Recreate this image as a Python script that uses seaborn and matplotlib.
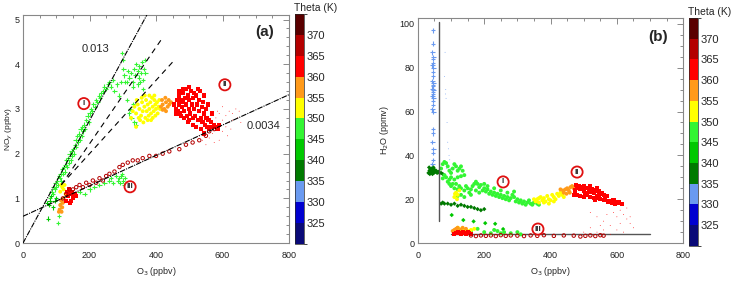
import numpy as np
import pandas as pd
import matplotlib
matplotlib.use('Agg')
import matplotlib.pyplot as plt
import matplotlib.colors as mcolors
import matplotlib.ticker as mticker
import seaborn as sns

# theta bins (K) and their colours
theta_bounds = [320, 325, 330, 335, 340, 345, 350, 355, 360, 365, 370, 375]
theta_colors = ['#0a0a78', '#0000d0', '#6a9af0', '#007a00', '#00c800', '#33f533',
                '#ffff00', '#ff9a1a', '#ff0000', '#b40000', '#5a0000']
theta_ticks = [325, 330, 335, 340, 345, 350, 355, 360, 365, 370]

# ---------------- panel (a): NOy vs O3 ----------------
a_350_x = [82, 86, 90, 92, 95, 98, 100, 103, 106, 108, 110, 113, 115, 118, 120, 123, 125, 128, 130, 133,
           136, 138, 140, 143, 146, 148, 150, 153, 156, 158, 160, 163, 166, 168, 170, 173, 176, 178, 180, 184,
           187, 190, 194, 197, 200, 204, 208, 212, 216, 220, 224, 228, 232, 236, 240, 245, 250, 255, 260, 265,
           270, 275, 282, 288, 294, 298, 300, 302, 305, 308,
           320, 325, 330, 335, 338, 340, 345, 348, 350, 355, 358, 360, 363, 366, 368, 330, 345, 352, 360, 312, 316,
           318, 322, 326, 330, 312, 335, 340,
           260, 265, 270, 280, 285, 290, 293, 296, 300, 303, 306, 298,
           150, 170, 185, 200, 215, 230, 245, 105, 108, 112, 115]
a_350_y = [1.0, 1.15, 1.1, 1.25, 1.2, 1.35, 1.25, 1.4, 1.3, 1.5, 1.45, 1.55, 1.4, 1.65, 1.55, 1.7, 1.6, 1.75, 1.85, 1.7,
           1.9, 1.8, 2.0, 1.85, 2.05, 1.95, 2.1, 2.0, 2.2, 2.3, 2.15, 2.4, 2.25, 2.45, 2.3, 2.55, 2.4, 2.6, 2.5, 2.65,
           2.55, 2.75, 2.85, 2.7, 2.9, 3.0, 2.95, 3.1, 3.05, 3.2, 3.15, 3.3, 3.25, 3.35, 3.4, 3.5, 3.45, 3.55, 3.6, 3.5,
           3.65, 3.4, 3.55, 3.3, 3.6, 4.25, 4.1, 3.9, 3.75, 3.6,
           3.7, 3.8, 3.6, 3.9, 3.75, 4.0, 3.85, 3.7, 3.95, 3.8, 4.05, 3.65, 3.9, 4.1, 3.8, 3.5, 3.55, 3.6, 3.45, 3.6, 3.85,
           2.9, 3.0, 2.8, 3.1, 3.2, 2.7, 2.65,
           1.4, 1.45, 1.35, 1.5, 1.4, 1.45, 1.35, 1.5, 1.4, 1.3, 1.45, 1.55,
           1.1, 1.15, 1.1, 1.2, 1.25, 1.3, 1.35, 0.45, 0.6, 0.75, 0.9]
a_345_x = [72, 75, 78, 80, 85, 90, 95, 100]
a_345_y = [0.9, 0.55, 0.85, 0.95, 1.05, 0.8, 0.95, 1.0]
a_355_x = [330, 335, 340, 345, 350, 355, 358, 360, 365, 368, 370, 372, 375, 378, 380, 383, 385, 388, 390, 393,
           395, 398, 400, 403, 405, 408, 362, 375, 352, 385, 342, 366, 395, 410, 412, 348, 357, 380, 390, 398,
           340, 325, 112, 118, 122, 125, 115, 128]
a_355_y = [2.95, 3.05, 2.9, 3.1, 3.0, 2.85, 3.15, 2.95, 3.05, 2.8, 3.2, 2.95, 3.1, 2.85, 3.0, 3.15, 2.9, 3.25, 3.05, 2.95,
           3.2, 3.1, 3.0, 3.15, 2.9, 3.05, 2.7, 2.75, 2.75, 2.75, 3.2, 3.3, 3.3, 3.2, 3.0, 2.8, 3.25, 3.3, 2.8, 2.85,
           2.6, 2.8, 1.15, 1.25, 1.2, 1.3, 1.3, 1.1]
a_360_x = [415, 420, 425, 430, 435, 440, 420, 430, 438, 445, 418, 428, 110, 112, 115, 118, 120, 108, 116, 122]
a_360_y = [3.05, 3.1, 3.0, 3.15, 3.05, 3.1, 2.98, 2.95, 3.2, 3.15, 3.2, 3.25, 0.75, 0.85, 0.95, 0.8, 0.9, 0.7, 0.7, 1.0]
a_365_x = [455, 460, 462, 465, 468, 470, 472, 475, 478, 480, 482, 485, 488, 490, 492, 495, 498, 500, 502, 505,
           508, 510, 512, 515, 518, 520, 522, 525, 528, 530, 532, 535, 538, 540, 542, 545, 548, 550, 552, 555,
           558, 560, 565, 570, 575, 580, 585, 590, 480, 470, 500, 490, 525, 515, 545, 556, 568, 460, 475, 495,
           510, 520, 535, 545, 500, 485, 130, 135, 140, 145, 150, 138, 148, 155, 142, 133, 160]
a_365_y = [3.1, 3.0, 3.2, 2.95, 3.3, 3.1, 2.9, 3.2, 3.05, 3.35, 3.15, 2.95, 3.25, 3.1, 2.85, 3.3, 3.0, 3.2, 2.9, 3.4,
           3.1, 2.8, 3.25, 3.0, 2.85, 3.3, 3.1, 2.75, 3.2, 2.95, 3.4, 2.8, 3.05, 2.7, 3.15, 2.9, 2.65, 3.0, 2.8, 2.6,
           2.75, 2.55, 2.7, 2.6, 2.65, 2.6, 2.55, 2.65, 3.45, 3.4, 3.5, 3.45, 3.45, 3.35, 3.3, 3.1, 2.9, 2.9, 2.85, 2.7,
           2.65, 2.6, 2.55, 2.45, 2.75, 2.8, 0.95, 1.05, 1.1, 0.95, 1.0, 1.2, 1.15, 1.1, 0.9, 1.15, 1.05]
a_365s_x = [540, 550, 560, 570, 580, 590, 600, 610, 620, 630, 640, 650, 600, 610, 620, 630, 615, 590, 575, 560,
            600, 585, 625, 645, 655, 540, 530, 555]
a_365s_y = [2.3, 2.2, 2.35, 2.45, 2.8, 2.9, 2.75, 2.85, 2.95, 2.9, 3.0, 2.95, 2.5, 2.6, 2.7, 2.75, 2.4, 2.3, 2.25, 2.55,
            3.05, 2.95, 2.55, 2.8, 2.7, 2.5, 2.4, 2.4]
a_370_x = [120, 130, 140, 150, 160, 170, 180, 190, 200, 210, 220, 230, 240, 250, 260, 275, 290, 300, 315, 330,
           345, 360, 380, 400, 420, 440, 470, 490, 510, 530, 550, 560, 575]
a_370_y = [1.0, 1.1, 1.2, 1.2, 1.25, 1.3, 1.25, 1.35, 1.3, 1.4, 1.35, 1.45, 1.4, 1.5, 1.55, 1.6, 1.7, 1.75, 1.8, 1.85,
           1.85, 1.9, 1.95, 1.95, 2.0, 2.05, 2.1, 2.2, 2.25, 2.3, 2.4, 2.5, 2.55]

# fitted lines in (a)
fit_slope_a = 0.0137          # "0.013" line through origin
fit2_slope, fit2_icpt = 0.0034, 0.6
dash_start = [115, 115]
dash_end = [421, 451]
dash_slope = [0.0108, 0.0082]
dash_icpt = [0.06, 0.36]

# ---------------- panel (b): H2O vs O3 ----------------
b_335_x = [45, 46, 44, 47, 45, 46, 44, 47, 45, 46, 44, 47, 45, 46, 44, 47, 45, 46, 44, 47,
           45, 46, 44, 47, 45, 46, 44, 47, 45, 46, 44]
b_335_y = [97, 91, 87, 85, 84, 82, 81, 80, 78, 76, 74, 73, 72, 71.5, 70.5, 70, 69, 68, 67, 66,
           65, 63, 61, 60, 52, 50, 46, 43, 41, 38, 36]
b_335s_x = [82, 80, 84, 83, 85, 88, 90, 92, 94, 96, 90, 86, 98]
b_335s_y = [87, 76, 70, 68, 66, 55, 46, 43, 40, 38, 36, 34, 34]
b_340_x = [32, 35, 38, 40, 42, 45, 48, 50, 52, 55, 58, 62, 65, 36, 44, 34, 47, 70, 75,
           70, 75, 80, 90, 100, 110, 120, 130, 140, 150, 160, 170, 180, 190, 200]
b_340_y = [32, 33, 33.5, 32.5, 34, 33, 32, 33.5, 32.5, 33, 32, 32.5, 32, 31.5, 31.5, 34.5, 34.5, 32, 31.5,
           18, 18.5, 18, 18, 17.5, 18, 17, 17.5, 17, 16.5, 16.5, 16, 15.5, 15, 15.5]
b_345_x = [102, 137, 168, 203, 233, 257]
b_345_y = [12.8, 10.5, 9.9, 9.1, 8.8, 6.4]
b_350_x = [70, 75, 80, 85, 90, 95, 100, 105, 110, 115, 120, 125, 130, 135, 140, 100, 110, 120, 130, 95,
           85, 80, 75, 105, 90,
           95, 100, 110, 115, 120, 125, 130, 140, 145, 150, 155, 160, 165, 170, 175, 180, 185, 190, 195, 200,
           205, 210, 215, 220, 225, 230, 235, 240, 245, 250, 255, 260, 265, 270, 275, 280, 285, 290, 295, 300,
           305, 310, 315, 320, 325, 330, 335, 340, 345, 350, 355, 360, 365, 200, 210, 230, 250, 270, 290, 175,
           185, 160, 140, 130, 120,
           200, 220, 240, 260, 280, 300, 310, 230, 180, 160, 250]
b_350_y = [34, 36, 37, 36.5, 35, 33, 32, 34, 36, 35, 33, 34, 35, 33, 31, 30, 29, 30, 30.5, 29,
           30, 31, 29.5, 27, 28,
           27, 26, 25, 27, 24.5, 26, 25, 24, 26, 25, 23, 24.5, 26, 27, 28, 27, 25.5, 26.5, 24, 25,
           23.5, 24.5, 22.5, 23.5, 22, 23, 21.5, 22.5, 21, 22, 20.5, 21.5, 20, 21, 19.5, 20.5, 22, 21, 19, 20,
           18.5, 19.5, 18, 19, 17.5, 18.5, 19.5, 18, 17.5, 18.5, 19, 18, 17.5, 27, 26, 25, 24, 23, 23.5, 24,
           23, 22, 21, 22, 21.5,
           5, 4.5, 5.5, 5, 4.5, 5, 4, 6, 6.5, 5.5, 4.5]
b_355_x = [355, 360, 365, 370, 375, 380, 385, 390, 395, 400, 405, 410, 415, 420, 425, 430, 435, 440, 395, 380,
           410, 365, 350, 110, 115, 120, 125, 118, 112, 115, 120, 125, 130, 135, 140, 150, 160, 170]
b_355_y = [19, 20, 18.5, 21, 19.5, 20.5, 19, 21.5, 20, 19.5, 22, 21, 20, 22.5, 21.5, 23, 22, 21, 18, 18.5,
           19, 20.5, 20, 21, 23, 22, 24, 20, 22.5, 6, 7, 6.5, 6, 6.5, 6, 5.5, 6, 6.5]
b_360_x = [440, 445, 450, 455, 460, 465, 470, 448, 458, 438, 430, 110, 115, 120, 128, 135, 105, 145]
b_360_y = [23, 24.5, 25, 24, 25.5, 26, 25, 22.5, 23, 24, 24.5, 6, 6.5, 7, 6, 7, 5.5, 6.5]
b_365_x = [475, 480, 485, 490, 495, 500, 505, 510, 515, 520, 525, 530, 535, 540, 545, 550, 555, 560, 565, 570,
           480, 490, 500, 510, 520, 530, 540, 550, 560, 575, 585, 595, 605, 615, 500, 520, 470, 478, 545, 535,
           590, 110, 115, 120, 125, 130, 135, 140, 145, 150, 155, 160]
b_365_y = [24, 25, 26, 24.5, 25.5, 24, 23, 25, 24, 23.5, 24.5, 23, 24, 25, 23.5, 22.5, 23, 22, 21, 21.5,
           22, 21.5, 21, 22, 21, 20.5, 21.5, 20, 19.5, 19, 18.5, 18, 18.5, 18, 26, 26, 22, 26.5, 20.5, 19.5,
           19.5, 4, 4.5, 5, 4.5, 4, 5, 4.5, 4, 5, 4.5, 4]
b_365s_x = [520, 540, 560, 580, 600, 610, 620, 630, 640, 600, 620, 560, 580, 540, 650, 590, 570, 630, 610, 550,
            520, 500, 640]
b_365s_y = [14, 12, 10, 8, 12, 15, 13, 11, 9, 6, 5, 6, 4, 5, 7, 14, 13, 16, 9, 8, 7, 5, 12]
b_370_x = [160, 175, 190, 205, 220, 235, 250, 265, 280, 300, 320, 340, 360, 380, 410, 440, 470, 490, 505, 520,
           535, 550, 560]
b_370_y = [3.5, 3.2, 3.5, 3.3, 3.5, 3.2, 3.6, 3.3, 3.5, 3.4, 3.2, 3.5, 3.3, 3.6, 3.3, 3.5, 3.4, 3.0, 3.3, 3.5,
           3.2, 3.6, 3.4]

# reference lines in (b)
vline_x_b, vline_y_b = 65, [10, 101]
hline_y_b, hline_x_b = 4, [100, 700]

cmap = mcolors.ListedColormap(theta_colors)
norm = mcolors.BoundaryNorm(theta_bounds, cmap.N)


def make_df(groups):
    rows = []
    for name, (xs, ys, theta, marker) in groups.items():
        rows.append(pd.DataFrame({'o3': xs, 'val': ys, 'theta': theta, 'grp': name}))
    return pd.concat(rows, ignore_index=True)


groups_a = {
    'g350': (a_350_x, a_350_y, 347, '+'),
    'g345': (a_345_x, a_345_y, 342, '+'),
    'g355': (a_355_x, a_355_y, 352, 'o'),
    'g360': (a_360_x, a_360_y, 357, 'o'),
    'g365': (a_365_x, a_365_y, 362, 's'),
    'g365s': (a_365s_x, a_365s_y, 362, '.'),
    'g370': (a_370_x, a_370_y, 367, 'o'),
}
groups_b = {
    'g335': (b_335_x, b_335_y, 332, '+'),
    'g335s': (b_335s_x, b_335s_y, 332, '.'),
    'g340': (b_340_x, b_340_y, 337, 'D'),
    'g345': (b_345_x, b_345_y, 342, 'D'),
    'g350': (b_350_x, b_350_y, 347, 'o'),
    'g355': (b_355_x, b_355_y, 352, 'o'),
    'g360': (b_360_x, b_360_y, 357, 'o'),
    'g365': (b_365_x, b_365_y, 362, 's'),
    'g365s': (b_365s_x, b_365s_y, 362, '.'),
    'g370': (b_370_x, b_370_y, 367, 'o'),
}
msize = {'+': 10, 'o': 8, '^': 9, '.': 1.5, 'D': 5, 's': 9}

sns.set_style('white')
plt.rcParams['font.family'] = ['Liberation Sans', 'DejaVu Sans']
fig = plt.figure(figsize=(7.37, 2.84), dpi=100)
ax_a = fig.add_axes([0.0312, 0.144, 0.361, 0.803])
cax_a = fig.add_axes([0.400, 0.141, 0.0122, 0.810])
ax_b = fig.add_axes([0.567, 0.144, 0.360, 0.793])
cax_b = fig.add_axes([0.935, 0.134, 0.0122, 0.803])


def draw(ax, groups):
    df = make_df(groups)
    pal = {t: cmap(norm(t)) for t in df['theta'].unique()}
    for name, (xs, ys, theta, marker) in groups.items():
        sub = df[df['grp'] == name]
        if name == 'g370':
            sns.scatterplot(data=sub, x='o3', y='val', ax=ax, marker='o', s=6, facecolor='none',
                            edgecolor=pal[theta], linewidth=0.7, legend=False, zorder=3)
        else:
            lw = 0.8 if marker == '+' else 0
            sns.scatterplot(data=sub, x='o3', y='val', hue='theta', palette=pal, ax=ax, marker=marker,
                            s=msize[marker], linewidth=lw, legend=False, zorder=3)


draw(ax_a, groups_a)
draw(ax_b, groups_b)

# lines (a)
xx = np.array([0, 5.1 / fit_slope_a])
ax_a.plot(xx, fit_slope_a * xx, color='k', lw=0.8, ls=(0, (5, 1, 1, 1)), zorder=4)
xx2 = np.array([0, 800])
ax_a.plot(xx2, fit2_icpt + fit2_slope * xx2, color='k', lw=0.8, ls=(0, (5, 1, 1, 1)), zorder=4)
for x0, x1, m, b in zip(dash_start, dash_end, dash_slope, dash_icpt):
    xd = np.array([x0, x1])
    ax_a.plot(xd, m * xd + b, color='k', lw=0.8, ls=(0, (5, 4)), zorder=4)

# lines (b)
ax_b.plot([vline_x_b, vline_x_b], vline_y_b, color='#555555', lw=1.0, zorder=4)
ax_b.plot(hline_x_b, [hline_y_b, hline_y_b], color='#555555', lw=1.0, zorder=2)


def circ(ax, x, y, label):
    ax.text(x, y, label, ha='center', va='center', fontsize=6, color='#333333', fontweight='bold',
            bbox=dict(boxstyle='circle,pad=0.25', fc='white', ec='#e01010', lw=1.3), zorder=6)


circ(ax_a, 183, 3.12, 'I')
circ(ax_a, 607, 3.54, 'II')
circ(ax_a, 322, 1.26, 'III')
circ(ax_b, 257, 27.9, 'I')
circ(ax_b, 480, 32.4, 'II')
circ(ax_b, 362, 6.4, 'III')

ax_a.text(217, 4.33, '0.013', fontsize=8, ha='center', va='center')
ax_a.text(722, 2.62, '0.0034', fontsize=8, ha='center', va='center')
ax_a.text(728, 4.73, '(a)', fontsize=11, fontweight='bold', ha='center', va='center')
ax_b.text(725, 94, '(b)', fontsize=11, fontweight='bold', ha='center', va='center')

for ax, ylim, ymaj, ymin, ylab in [(ax_a, (0, 5.1), 1, 0.2, 'NO$_y$ (ppbv)'),
                                   (ax_b, (0, 102.7), 20, 5, 'H$_2$O (ppmv)')]:
    ax.set_xlim(0, 800)
    ax.set_ylim(*ylim)
    ax.xaxis.set_major_locator(mticker.MultipleLocator(200))
    ax.xaxis.set_minor_locator(mticker.MultipleLocator(50))
    ax.yaxis.set_major_locator(mticker.MultipleLocator(ymaj))
    ax.yaxis.set_minor_locator(mticker.MultipleLocator(ymin))
    ax.tick_params(which='both', direction='in', top=True, right=True, labelsize=6.5,
                   colors='#777777', labelcolor='#222222', width=0.6)
    ax.tick_params(which='major', length=4)
    ax.tick_params(axis='x', which='major', pad=6)
    ax.tick_params(axis='y', which='major', pad=2.5)
    ax.tick_params(which='minor', length=2)
    ax.set_xlabel('O$_3$ (ppbv)', fontsize=6.5, labelpad=3)
    ax.set_ylabel(ylab, fontsize=6.5, labelpad=2)
    for sp in ax.spines.values():
        sp.set_color('#888888')
        sp.set_linewidth(0.8)
ax_a.yaxis.label.set_fontsize(6)
ax_a.yaxis.set_label_coords(-0.03, 0.5)
ax_b.yaxis.set_label_coords(-0.1, 0.5)

for cax in (cax_a, cax_b):
    cb = matplotlib.colorbar.ColorbarBase(cax, cmap=cmap, norm=norm, ticks=theta_ticks, orientation='vertical')
    cb.outline.set_linewidth(0.5)
    cax.tick_params(length=0, labelsize=8, pad=2)
    cax.set_title('Theta (K)', fontsize=7.5, pad=2, x=2.3)

fig.savefig('out.png', dpi=100)
